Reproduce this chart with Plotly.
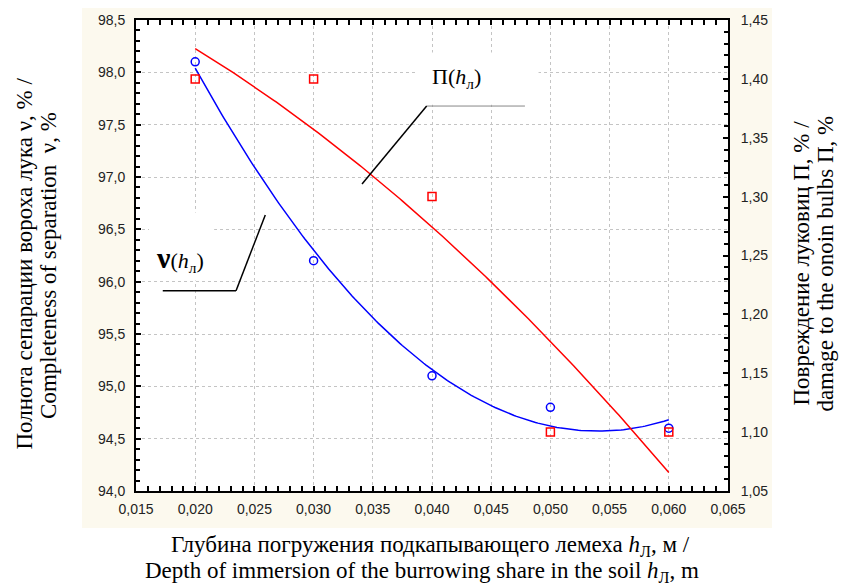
import numpy as np
import plotly.graph_objects as go

# ---- data ----
depth = [0.020, 0.030, 0.040, 0.050, 0.060]          # h_л, m
separation = [98.1, 96.2, 95.1, 94.8, 94.6]          # ν, %  (left axis)
damage = [1.40, 1.40, 1.30, 1.10, 1.10]              # П, %  (right axis)

x_ticks = [0.015, 0.020, 0.025, 0.030, 0.035, 0.040, 0.045, 0.050, 0.055, 0.060, 0.065]
y1_ticks = [94.0, 94.5, 95.0, 95.5, 96.0, 96.5, 97.0, 97.5, 98.0, 98.5]
y2_ticks = [1.05, 1.10, 1.15, 1.20, 1.25, 1.30, 1.35, 1.40, 1.45]

# quadratic regression curves (as in the original chart)
xs = np.linspace(min(depth), max(depth), 200)
sep_fit = np.polyval(np.polyfit(depth, separation, 2), xs)
dam_fit = np.polyval(np.polyfit(depth, damage, 2), xs)

BLUE = "#0000FF"
RED = "#FF0000"
CREAM = "#FCF9EE"
SERIF = "Liberation Serif"
SANS = "Liberation Sans"

fig = go.Figure()
fig.add_trace(go.Scatter(x=xs, y=sep_fit, mode="lines", line=dict(color=BLUE, width=1.5),
                         showlegend=False, hoverinfo="skip"))
fig.add_trace(go.Scatter(x=depth, y=separation, mode="markers",
                         marker=dict(symbol="circle-open", size=8, color=BLUE, line=dict(width=1.5)),
                         showlegend=False))
fig.add_trace(go.Scatter(x=xs, y=dam_fit, mode="lines", line=dict(color=RED, width=1.5),
                         yaxis="y2", showlegend=False, hoverinfo="skip"))
fig.add_trace(go.Scatter(x=depth, y=damage, mode="markers", yaxis="y2",
                         marker=dict(symbol="square-open", size=8, color=RED, line=dict(width=1.5)),
                         showlegend=False))

tickfont = dict(family=SANS, size=14, color="#222222")
axis_common = dict(showline=True, linecolor="black", linewidth=2, ticks="inside",
                   ticklen=5, tickwidth=1.5, tickcolor="black", tickfont=tickfont,
                   zeroline=False)

fig.update_layout(
    width=843, height=587,
    margin=dict(l=136, r=115, t=20, b=96),
    paper_bgcolor="white", plot_bgcolor="white",
    separators=", ",
    xaxis=dict(range=[0.015, 0.065], tickvals=x_ticks, tickformat=".3f",
               mirror="allticks", showgrid=True, gridcolor="#c4c4c4", griddash="dot", gridwidth=1,
               minor=dict(ticks="inside", dtick=0.001, tick0=0.015, ticklen=4, tickcolor="black",
                          tickwidth=1.5, showgrid=False),
               ticklabelstandoff=4, **axis_common),
    yaxis=dict(range=[94.0, 98.5], tickvals=y1_ticks, tickformat=".1f",
               showgrid=True, gridcolor="#c4c4c4", griddash="dot", gridwidth=1,
               minor=dict(ticks="inside", dtick=0.1, tick0=94.0, ticklen=4, tickcolor="black",
                          tickwidth=1.5, showgrid=False),
               ticklabelstandoff=6, **axis_common),
    yaxis2=dict(range=[1.05, 1.45], tickvals=y2_ticks, tickformat=".2f", overlaying="y",
                side="right", showgrid=False,
                minor=dict(ticks="inside", dtick=0.01, tick0=1.05, ticklen=4, tickcolor="black",
                           tickwidth=1.5, showgrid=False),
                ticklabelstandoff=8, **axis_common),
)

shapes = [
    # cream backdrop around the plot
    dict(type="rect", xref="paper", yref="paper", x0=-0.0912, x1=1.0743, y0=-0.0786, y1=1.0255,
         fillcolor=CREAM, line=dict(width=0), layer="below"),
    dict(type="rect", xref="paper", yref="paper", x0=0, x1=1, y0=0, y1=1,
         fillcolor="white", line=dict(width=0), layer="below"),
    # white boxes behind the curve labels
    dict(type="rect", xref="x", yref="y", x0=0.0161, x1=0.0216, y0=96.01, y1=96.66,
         fillcolor="white", line=dict(width=0), layer="between"),
    dict(type="rect", xref="x", yref="y", x0=0.0386, x1=0.0490, y0=97.69, y1=98.19,
         fillcolor="white", line=dict(width=0), layer="between"),
    # leader lines
    dict(type="line", xref="x", yref="y", x0=0.01726, x1=0.02345, y0=95.914, y1=95.914,
         line=dict(color="black", width=1.5)),
    dict(type="line", xref="x", yref="y", x0=0.02345, x1=0.02592, y0=95.914, y1=96.637,
         line=dict(color="black", width=1.5)),
    dict(type="line", xref="x", yref="y", x0=0.03955, x1=0.04785, y0=97.678, y1=97.678,
         line=dict(color="#888888", width=1)),
    dict(type="line", xref="x", yref="y", x0=0.03955, x1=0.03409, y0=97.678, y1=96.933,
         line=dict(color="black", width=1.5)),
]
fig.update_layout(shapes=shapes)

title_font = dict(family=SERIF, size=23, color="black")
annotations = [
    dict(x=0.01872, y=96.226, xref="x", yref="y", showarrow=False,
         xanchor="center", yanchor="middle",
         text="<span style='font-size:30px'><b>ν</b></span>(<i>h</i><sub>л</sub>)",
         font=dict(family=SERIF, size=22, color="black")),
    dict(x=0.04211, y=97.946, xref="x", yref="y", showarrow=False,
         xanchor="center", yanchor="middle",
         text="П(<i>h</i><sub>л</sub>)",
         font=dict(family=SERIF, size=22, color="black")),
    # left axis title (two lines)
    dict(x=-0.1875, y=0.483, xref="paper", yref="paper", showarrow=False, textangle=-90,
         xanchor="center", yanchor="middle",
         text="Полнота сепарации вороха лука ν, % /", font=title_font),
    dict(x=-0.1470, y=0.480, xref="paper", yref="paper", showarrow=False, textangle=-90,
         xanchor="center", yanchor="middle",
         text="Completeness of separation  ν, %", font=title_font),
    # right axis title (two lines)
    dict(x=1.1250, y=0.483, xref="paper", yref="paper", showarrow=False, textangle=-90,
         xanchor="center", yanchor="middle",
         text="Повреждение луковиц П, % /", font=title_font),
    dict(x=1.1640, y=0.483, xref="paper", yref="paper", showarrow=False, textangle=-90,
         xanchor="center", yanchor="middle",
         text="damage to the onoin bulbs П, %", font=title_font),
    # x axis title (two lines)
    dict(x=0.497, y=-0.116, xref="paper", yref="paper", showarrow=False,
         xanchor="center", yanchor="middle",
         text="Глубина погружения подкапывающего лемеха <i>h</i><sub>Л</sub>, м /", font=title_font),
    dict(x=0.483, y=-0.172, xref="paper", yref="paper", showarrow=False,
         xanchor="center", yanchor="middle",
         text="Depth of immersion of the burrowing share in the soil <i>h</i><sub>Л</sub>, m",
         font=title_font),
]
fig.update_layout(annotations=annotations)

fig.write_html("out.html")
